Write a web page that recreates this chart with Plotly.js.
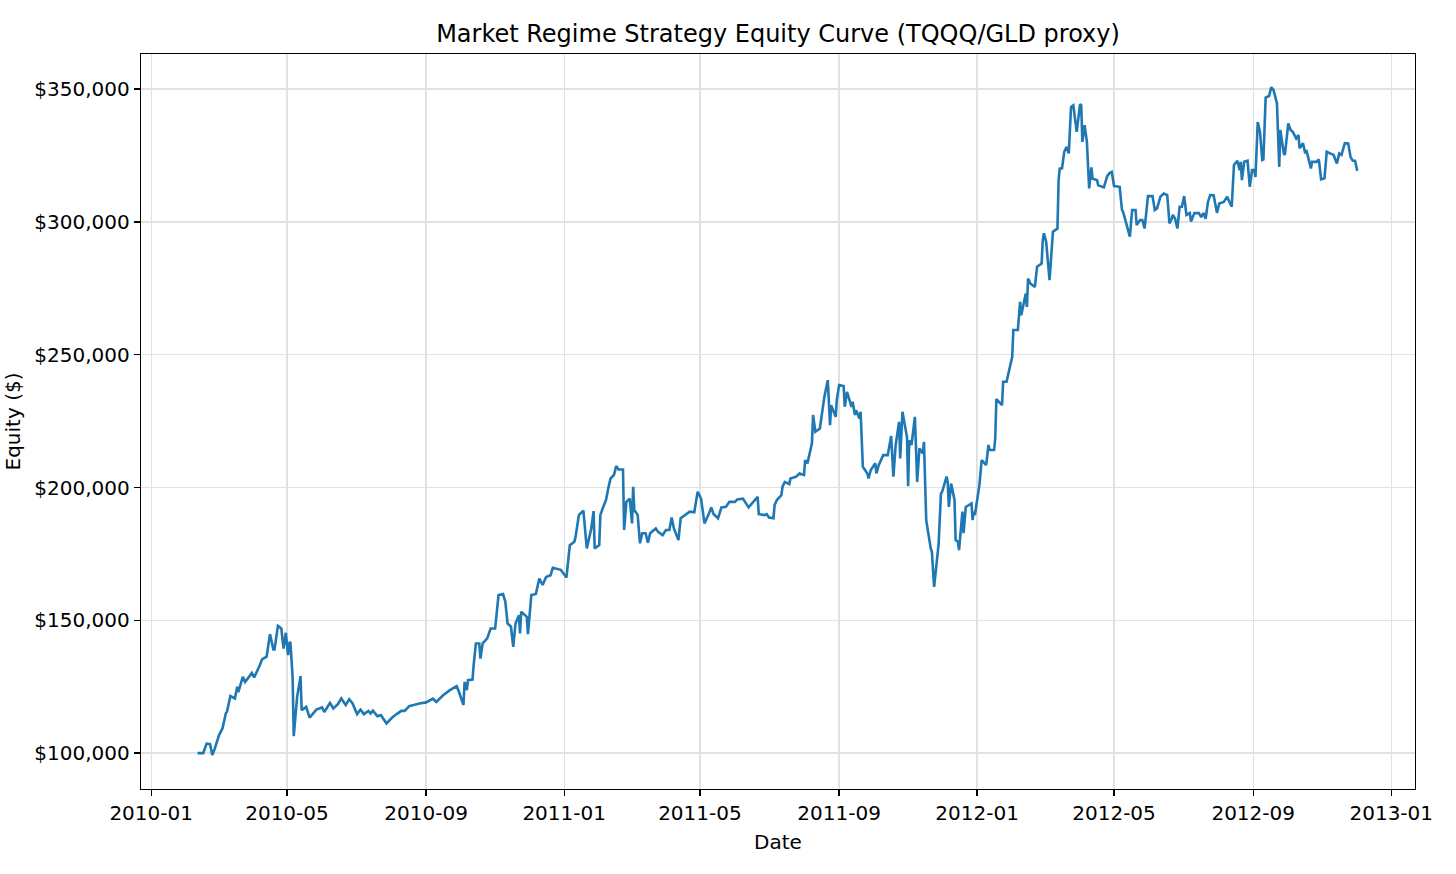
<!DOCTYPE html>
<html>
<head>
<meta charset="utf-8">
<script src="https://cdn.plot.ly/plotly-3.0.1.min.js"></script>
<style>
  html, body { margin: 0; padding: 0; background: #fff; }
  #chart { width: 1456px; height: 874px; }
</style>
</head>
<body>
<div id="chart"></div>
<script>
// ########################################################################
// # EQUITY CURVE DATA
// ########################################################################

var dates2010 = ['2010-02-11','2010-02-16','2010-02-19','2010-02-22','2010-02-24','2010-02-26','2010-03-02','2010-03-05','2010-03-08','2010-03-09',
  '2010-03-12','2010-03-15','2010-03-16','2010-03-18','2010-03-19','2010-03-23','2010-03-25','2010-03-31','2010-04-02','2010-04-07',
  '2010-04-09','2010-04-13','2010-04-16','2010-04-19','2010-04-20','2010-04-23','2010-04-26','2010-04-28','2010-04-30','2010-05-02',
  '2010-05-03','2010-05-04','2010-05-06','2010-05-07','2010-05-10','2010-05-13','2010-05-14','2010-05-18','2010-05-21','2010-05-27',
  '2010-06-01','2010-06-03','2010-06-08','2010-06-11','2010-06-15','2010-06-18','2010-06-22','2010-06-25','2010-06-28','2010-07-02',
  '2010-07-05','2010-07-08','2010-07-12','2010-07-14','2010-07-16','2010-07-20','2010-07-23','2010-07-28','2010-08-02','2010-08-06',
  '2010-08-10','2010-08-13','2010-08-17','2010-08-21','2010-08-26','2010-09-01','2010-09-07','2010-09-10','2010-09-16','2010-09-22',
  '2010-09-28','2010-09-30','2010-10-04','2010-10-05','2010-10-07','2010-10-08','2010-10-12','2010-10-13','2010-10-15','2010-10-18',
  '2010-10-19','2010-10-21','2010-10-25','2010-10-28','2010-11-01','2010-11-04','2010-11-08','2010-11-10','2010-11-12','2010-11-15',
  '2010-11-17','2010-11-19','2010-11-22','2010-11-23','2010-11-24','2010-11-29','2010-11-30','2010-12-03','2010-12-07','2010-12-10',
  '2010-12-13','2010-12-16','2010-12-20','2010-12-22','2010-12-27','2010-12-29'];
var equity2010 = [100000,100000,103600,103400,99300,101400,106800,109300,115000,115600,
  121500,121000,120600,125000,123000,128700,126800,130200,128500,133100,
  135300,136300,144800,139000,139000,147900,146900,139400,145300,136900,
  141300,141900,128700,106400,121200,129000,116200,117400,113400,116400,
  117200,115500,118900,116800,118400,120600,118100,120300,118700,114700,
  116400,114700,115900,114900,116000,113900,114300,111200,113400,114700,
  115900,115900,117700,118100,118700,119100,120500,119300,121800,123700,
  125200,123100,118100,126800,123700,127500,127700,133100,141300,141300,
  135600,141300,143200,146900,146900,159500,159900,157000,148800,147600,
  140000,148800,151900,145100,153200,151300,144800,159500,159900,165700,
  163300,166300,167000,169800,169200,169000];

var dates2011 = ['2011-01-03','2011-01-05','2011-01-06','2011-01-10','2011-01-11','2011-01-14','2011-01-18','2011-01-21','2011-01-25','2011-01-27',
  '2011-01-28','2011-02-01','2011-02-02','2011-02-04','2011-02-07','2011-02-09','2011-02-11','2011-02-14','2011-02-16','2011-02-18',
  '2011-02-22','2011-02-23','2011-02-25','2011-02-28','2011-03-02','2011-03-03','2011-03-04','2011-03-07','2011-03-09','2011-03-11',
  '2011-03-14','2011-03-16','2011-03-18','2011-03-23','2011-03-25','2011-03-29','2011-04-01','2011-04-04','2011-04-06','2011-04-08',
  '2011-04-12','2011-04-14','2011-04-19','2011-04-22','2011-04-26','2011-04-29','2011-05-02','2011-05-05','2011-05-09','2011-05-11',
  '2011-05-13','2011-05-17','2011-05-20','2011-05-24','2011-05-27','2011-06-01','2011-06-03','2011-06-08','2011-06-13','2011-06-16',
  '2011-06-21','2011-06-22','2011-06-27','2011-06-29','2011-07-01','2011-07-05','2011-07-06','2011-07-08','2011-07-12','2011-07-13',
  '2011-07-15','2011-07-19','2011-07-20','2011-07-25','2011-07-28','2011-08-01','2011-08-02','2011-08-04','2011-08-08','2011-08-09',
  '2011-08-11','2011-08-15','2011-08-17','2011-08-19','2011-08-22','2011-08-24','2011-08-25','2011-08-29','2011-08-30','2011-09-01',
  '2011-09-05','2011-09-06','2011-09-08','2011-09-12','2011-09-13','2011-09-15','2011-09-16','2011-09-19','2011-09-20','2011-09-22',
  '2011-09-26','2011-09-27','2011-09-29','2011-10-03','2011-10-04','2011-10-06','2011-10-10','2011-10-14','2011-10-17','2011-10-19',
  '2011-10-21','2011-10-24','2011-10-25','2011-10-27','2011-10-31','2011-11-01','2011-11-02','2011-11-04','2011-11-07','2011-11-09',
  '2011-11-11','2011-11-14','2011-11-15','2011-11-17','2011-11-21','2011-11-22','2011-11-24','2011-11-28','2011-11-30','2011-12-01',
  '2011-12-05','2011-12-06','2011-12-07','2011-12-09','2011-12-12','2011-12-13','2011-12-15','2011-12-16','2011-12-19','2011-12-20',
  '2011-12-22','2011-12-27','2011-12-28','2011-12-29','2011-12-30'];
var equity2011 = [166100,173300,178300,179600,181200,189600,191300,177100,184600,191100,
  177100,178300,189600,192100,195300,199700,203400,204700,208100,206800,
  206800,184000,194600,195800,186500,200300,191500,189600,179000,182800,
  182800,179200,182800,184600,183300,182100,184000,184000,188700,184600,
  180200,188400,190000,190900,190700,198400,195800,186500,190200,192500,
  190000,188400,192500,192700,194600,194600,195500,195800,192500,194000,
  196500,190000,189600,190000,188700,188400,193400,195300,197100,200300,
  202100,201300,203400,204100,205300,204700,210300,209100,216600,227300,
  221000,222200,227900,234200,240400,223500,231000,226600,233100,238600,
  238200,230400,236000,230400,232300,227300,229100,226000,228500,207800,
  205300,203400,206600,209100,205300,208400,212200,212200,219400,204100,
  216000,224700,210900,228500,219000,200500,217800,216000,226600,202100,
  214700,212800,217200,187700,177100,175800,162600,178900,197700,198300,
  204100,202100,192700,201500,195300,180200,179600,176400,190900,182800,
  192700,194000,187700,190900,189600];

var dates2012 = ['2012-01-03','2012-01-05','2012-01-09','2012-01-11','2012-01-12','2012-01-16','2012-01-17','2012-01-18','2012-01-20','2012-01-23',
  '2012-01-24','2012-01-27','2012-02-01','2012-02-02','2012-02-06','2012-02-08','2012-02-09','2012-02-13','2012-02-14','2012-02-15',
  '2012-02-17','2012-02-21','2012-02-23','2012-02-27','2012-02-28','2012-02-29','2012-03-02','2012-03-05','2012-03-08','2012-03-12',
  '2012-03-13','2012-03-14','2012-03-16','2012-03-18','2012-03-20','2012-03-22','2012-03-24','2012-03-26','2012-03-29','2012-04-01',
  '2012-04-02','2012-04-03','2012-04-05','2012-04-07','2012-04-09','2012-04-11','2012-04-12','2012-04-16','2012-04-17','2012-04-22',
  '2012-04-25','2012-04-27','2012-04-29','2012-05-01','2012-05-06','2012-05-08','2012-05-09','2012-05-12','2012-05-15','2012-05-17',
  '2012-05-20','2012-05-21','2012-05-24','2012-05-26','2012-05-28','2012-05-31','2012-06-04','2012-06-06','2012-06-08','2012-06-11',
  '2012-06-14','2012-06-17','2012-06-19','2012-06-21','2012-06-22','2012-06-24','2012-06-26','2012-06-28','2012-06-30','2012-07-02',
  '2012-07-04','2012-07-07','2012-07-08','2012-07-11','2012-07-15','2012-07-17','2012-07-19','2012-07-21','2012-07-23','2012-07-25',
  '2012-07-28','2012-07-31','2012-08-02','2012-08-06','2012-08-09','2012-08-11','2012-08-13','2012-08-15','2012-08-18','2012-08-20',
  '2012-08-21','2012-08-22','2012-08-24','2012-08-27','2012-08-29','2012-08-31','2012-09-02','2012-09-03','2012-09-05','2012-09-07',
  '2012-09-09','2012-09-10','2012-09-12','2012-09-15','2012-09-17','2012-09-19','2012-09-22','2012-09-24','2012-09-25','2012-09-28',
  '2012-09-29','2012-10-02','2012-10-04','2012-10-06','2012-10-09','2012-10-11','2012-10-12','2012-10-15','2012-10-17','2012-10-18',
  '2012-10-20','2012-10-22','2012-10-23','2012-10-27','2012-10-29','2012-10-31','2012-11-03','2012-11-05','2012-11-08','2012-11-11',
  '2012-11-14','2012-11-16','2012-11-18','2012-11-21','2012-11-24','2012-11-26','2012-11-28','2012-11-30','2012-12-02'];
var equity2012 = [200900,210300,208400,216000,214100,214100,218500,233300,232300,231000,
  239800,239800,249200,259300,259300,269900,264900,273000,268000,278700,
  276800,275500,283100,284300,293100,295700,292500,278100,296300,297500,
  315700,320100,320100,326400,328200,325800,343300,343900,333900,344300,
  343900,330100,336400,330100,312600,320500,316300,315700,313800,313000,
  317200,318400,318800,313500,313200,304500,303800,299400,294400,304500,
  304500,298800,300700,300700,297500,309700,309700,304500,305100,309500,
  310700,310100,299400,301200,302600,301200,297500,305700,305700,309700,
  302600,303300,300100,303300,303300,301800,303300,301200,307500,310100,
  310000,303400,306900,307500,309500,307500,305700,321400,323000,319500,
  322600,315700,322600,323000,313200,319500,319500,316900,337600,333900,
  323300,323500,346800,347400,350700,349600,344600,320700,334600,325800,
  325200,337100,334600,333900,331400,332700,327700,329600,325800,327000,
  323900,320100,322600,322600,323500,316000,316400,326400,325800,325200,
  322000,325800,325200,329600,329500,324500,323000,323000,319200];

var chartTitle = 'Market Regime Strategy Equity Curve (TQQQ/GLD proxy)';
var xLabel = 'Date';
var yLabel = 'Equity ($)';
var yTicks = [100000, 150000, 200000, 250000, 300000, 350000];

// ########################################################################
// # PLOT
// ########################################################################

var dates = dates2010.concat(dates2011, dates2012);
var equity = equity2010.concat(equity2011, equity2012);

// dollar tick labels like $100,000
var yTickText = yTicks.map(function (v) {
  return '$' + v.toString().replace(/\B(?=(\d{3})+(?!\d))/g, ',');
});

var font_family = 'DejaVu Sans, Liberation Sans, sans-serif';

var trace_1 = {
  x: dates,
  y: equity,
  type: 'scatter',
  mode: 'lines',
  line: {color: '#1f77b4', width: 2.6}
};

var layout = {
  width: 1456,
  height: 874,
  autosize: false,
  hovermode: false,
  showlegend: false,
  paper_bgcolor: '#ffffff',
  plot_bgcolor: '#ffffff',
  font: {family: font_family, size: 20, color: '#000'},
  margin: {l: 141, r: 41, t: 54, b: 85},
  // centred over the plot area, like matplotlib's axes title
  title: {
    text: chartTitle,
    font: {family: font_family, size: 24, color: '#000'},
    x: 0.5, xref: 'paper', xanchor: 'center',
    y: 1 - 34 / 874, yref: 'container', yanchor: 'middle'
  },
  xaxis: {
    type: 'date',
    range: ['2009-12-23', '2013-01-22'],
    tick0: '2010-01-01',
    dtick: 'M4',
    tickformat: '%Y-%m',
    showgrid: true,
    gridcolor: '#e2e2e2',
    gridwidth: 1.3,
    zeroline: false,
    showline: true,
    mirror: true,
    linecolor: '#000',
    linewidth: 1.3,
    ticks: 'outside',
    ticklen: 6,
    tickwidth: 1.3,
    tickcolor: '#000',
    tickfont: {size: 20},
    automargin: false,
    title: {text: xLabel, font: {size: 20}, standoff: 10}
  },
  yaxis: {
    range: [86500, 363200],
    tickmode: 'array',
    tickvals: yTicks,
    ticktext: yTickText,
    showgrid: true,
    gridcolor: '#e2e2e2',
    gridwidth: 1.3,
    zeroline: false,
    showline: true,
    mirror: true,
    linecolor: '#000',
    linewidth: 1.3,
    ticks: 'outside',
    ticklen: 6,
    tickwidth: 1.3,
    tickcolor: '#000',
    tickfont: {size: 20},
    automargin: false,
    title: {text: yLabel, font: {size: 20}, standoff: 8}
  }
};

Plotly.newPlot('chart', [trace_1], layout, {displayModeBar: false, staticPlot: true});
</script>
</body>
</html>
